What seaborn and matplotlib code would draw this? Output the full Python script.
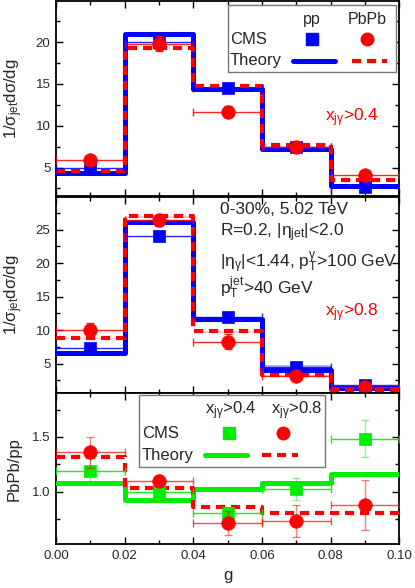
import numpy as np
import matplotlib
matplotlib.use("Agg")
import matplotlib.pyplot as plt
import seaborn as sns
from matplotlib.patches import Rectangle
from matplotlib.ticker import MultipleLocator, FormatStrFormatter

# --- Data ---
g_edges = [0.00, 0.02, 0.04, 0.06, 0.08, 0.10]
g_mid = [0.01, 0.03, 0.05, 0.07, 0.09]

# x_jg > 0.4
cms_pp_04 = [4.9, 20.0, 14.5, 7.4, 2.7]
cms_pp_04_err = [0.3, 0.5, 0.4, 0.3, 0.2]
cms_aa_04 = [5.9, 19.8, 11.7, 7.5, 4.1]
cms_aa_04_err = [0.4, 0.9, 0.7, 0.5, 0.3]
th_pp_04 = [4.3, 21.0, 14.4, 7.2, 2.85]
th_aa_04 = [4.6, 19.35, 14.7, 7.7, 3.5]

# x_jg > 0.8
cms_pp_08 = [7.35, 24.1, 11.9, 4.55, 1.75]
cms_pp_08_err = [0.4, 0.6, 0.5, 0.3, 0.2]
cms_aa_08 = [10.0, 26.4, 8.3, 3.2, 1.45]
cms_aa_08_err = [1.0, 0.8, 1.05, 0.4, 0.3]
th_pp_08 = [6.65, 26.2, 11.7, 4.05, 1.4]
th_pp_08_hi = [6.9, 26.4, 12.0, 4.8, 1.7]
th_aa_08 = [8.85, 27.0, 9.9, 3.3, 1.1]
th_aa_08_lo = [8.6, 26.8, 9.6, 3.0, 0.9]

# ratio PbPb/pp
ratio_04 = [1.19, 1.00, 0.80, 1.02, 1.485]
ratio_04_err = [0.12, 0.05, 0.06, 0.10, 0.17]
ratio_08 = [1.36, 1.10, 0.71, 0.73, 0.88]
ratio_08_err = [0.14, 0.05, 0.11, 0.15, 0.23]
th_ratio_04 = [1.08, 0.92, 1.02, 1.075, 1.165]
th_ratio_08 = [1.32, 1.03, 0.855, 0.80, 0.80]

BLUE = '#0000FF'
RED = '#FF0000'
GREEN = '#00EE00'

sns.set_theme(style='ticks')
plt.rcParams['font.family'] = ['Liberation Sans', 'DejaVu Sans']
plt.rcParams['mathtext.fontset'] = 'custom'
plt.rcParams['mathtext.rm'] = 'Liberation Sans'
plt.rcParams['mathtext.it'] = 'Liberation Sans'
plt.rcParams['mathtext.bf'] = 'Liberation Sans:bold'

fig = plt.figure(figsize=(4.15, 5.88), dpi=100)
L, R = 0.135, 0.962
ax1 = fig.add_axes([L, 0.6667, R - L, 0.3313])
ax2 = fig.add_axes([L, 0.3316, R - L, 0.3334])
ax3 = fig.add_axes([L, 0.0748, R - L, 0.2563])


def steps(ax, vals, color, dashed=False, lw=3.2, z=3):
    y = list(vals) + [vals[-1]]
    sns.lineplot(x=g_edges, y=y, ax=ax, drawstyle='steps-post', color=color,
                 linewidth=lw, linestyle=(0, (2.2, 1.4)) if dashed else '-',
                 estimator=None, sort=False, zorder=z)


def data(ax, y, yerr, color, marker, ms, z, alpha_x=0.85, alpha_y=0.85):
    ax.errorbar(g_mid, y, xerr=0.01, fmt='none', ecolor=color, elinewidth=1.0,
                capsize=3, capthick=1.0, alpha=alpha_x, zorder=z)
    ax.errorbar(g_mid, y, yerr=yerr, fmt='none', ecolor=color, elinewidth=1.0,
                capsize=3, capthick=1.0, alpha=alpha_y, zorder=z)
    sns.scatterplot(x=g_mid, y=y, ax=ax, color=color, marker=marker, s=ms,
                    edgecolor=color, linewidth=0.5, alpha=1.0, zorder=z + 0.5)


# --- panel 1: x > 0.4 ---
steps(ax1, th_pp_04, BLUE, lw=3.6, z=3)
steps(ax1, th_aa_04, RED, dashed=True, lw=3.0, z=4)
data(ax1, cms_pp_04, cms_pp_04_err, BLUE, 's', 75, 5)
data(ax1, cms_aa_04, cms_aa_04_err, RED, 'o', 95, 6)
ax1.set_ylim(1.6, 24.9)
ax1.yaxis.set_major_locator(MultipleLocator(5))
ax1.yaxis.set_minor_locator(MultipleLocator(2.5))

# --- panel 2: x > 0.8 ---
ax2.fill_between(g_edges, th_pp_08 + [th_pp_08[-1]], th_pp_08_hi + [th_pp_08_hi[-1]],
                 step='post', color=BLUE, alpha=0.3, linewidth=0, zorder=2)
ax2.fill_between(g_edges, th_aa_08_lo + [th_aa_08_lo[-1]], th_aa_08 + [th_aa_08[-1]],
                 step='post', color=RED, alpha=0.2, linewidth=0, zorder=2)
steps(ax2, th_pp_08, BLUE, lw=3.6, z=3)
steps(ax2, th_aa_08, RED, dashed=True, lw=3.0, z=4)
data(ax2, cms_pp_08, cms_pp_08_err, BLUE, 's', 75, 5)
data(ax2, cms_aa_08, cms_aa_08_err, RED, 'o', 95, 6)
ax2.set_ylim(0.6, 29.9)
ax2.yaxis.set_major_locator(MultipleLocator(5))
ax2.yaxis.set_minor_locator(MultipleLocator(2.5))

# --- panel 3: ratio ---
steps(ax3, th_ratio_04, GREEN, lw=3.6, z=3)
steps(ax3, th_ratio_08, RED, dashed=True, lw=3.0, z=4)
data(ax3, ratio_04, ratio_04_err, GREEN, 's', 75, 5, alpha_x=0.9, alpha_y=0.45)
data(ax3, ratio_08, ratio_08_err, RED, 'o', 95, 6, alpha_x=0.7, alpha_y=0.5)
ax3.set_ylim(0.52, 1.9)
ax3.yaxis.set_major_locator(MultipleLocator(0.5))
ax3.yaxis.set_minor_locator(MultipleLocator(0.25))
ax3.set_xlabel('g', fontsize=12)
ax3.xaxis.set_label_coords(0.5, -0.16)

for ax in (ax1, ax2, ax3):
    ax.set_xlim(0, 0.10)
    ax.xaxis.set_major_locator(MultipleLocator(0.02))
    ax.xaxis.set_minor_locator(MultipleLocator(0.01))
    ax.tick_params(which='both', direction='in', top=True, right=True,
                   labelsize=9.5, width=1.0, color='black', pad=4)
    ax.tick_params(which='major', length=5)
    ax.tick_params(which='minor', length=3)
    for s in ax.spines.values():
        s.set_linewidth(1.3)
        s.set_color('black')
    ax.set_facecolor('white')
    ax.grid(False)
ax3.xaxis.set_major_formatter(FormatStrFormatter('%.2f'))
ax3.yaxis.set_major_formatter(FormatStrFormatter('%.1f'))
for ax in (ax1, ax2):
    ax.tick_params(labelbottom=False)
    ax.set_xlabel('')

ax1.set_ylabel(r'1/$\sigma_{\rm jet}$d$\sigma$/dg', fontsize=12)
ax2.set_ylabel(r'1/$\sigma_{\rm jet}$d$\sigma$/dg', fontsize=12)
ax3.set_ylabel('PbPb/pp', fontsize=12)
ax1.yaxis.set_label_coords(-0.09, 0.5)
ax2.yaxis.set_label_coords(-0.09, 0.5)
ax3.yaxis.set_label_coords(-0.10, 0.5)

# --- hand-made legends ---
tr = ax1.transAxes
ax1.add_patch(Rectangle((0.501, 0.638), 0.489, 0.342, transform=tr, fill=True,
                        facecolor='white', edgecolor='#777777', lw=1.0, zorder=8))
ax1.text(0.745, 0.905, 'pp', transform=tr, ha='center', va='center', fontsize=11.5, zorder=9)
ax1.text(0.907, 0.905, 'PbPb', transform=tr, ha='center', va='center', fontsize=11.5, zorder=9)
ax1.text(0.507, 0.803, 'CMS', transform=tr, ha='left', va='center', fontsize=12, zorder=9)
ax1.text(0.507, 0.694, 'Theory', transform=tr, ha='left', va='center', fontsize=12, zorder=9)
ax1.plot([0.745], [0.806], 's', color=BLUE, ms=8, transform=tr, zorder=9)
ax1.plot([0.905], [0.806], 'o', color=RED, ms=9, transform=tr, zorder=9)
ax1.plot([0.690, 0.813], [0.694, 0.694], '-', color=BLUE, lw=3.6, transform=tr, zorder=9)
ax1.plot([0.861, 0.963], [0.694, 0.694], color=RED, lw=3.0,
         linestyle=(0, (2.2, 1.4)), transform=tr, zorder=9)
ax1.text(0.784, 0.403, r'x$_{\rm j\gamma}$>0.4', transform=tr, color=RED,
         ha='left', va='center', fontsize=12.5)

tr2 = ax2.transAxes
info = ['0-30%, 5.02 TeV',
        r'R=0.2, |$\eta_{\rm jet}$|<2.0',
        r'|$\eta_{\gamma}$|<1.44, p$_{\rm T}^{\gamma}$>100 GeV',
        r'p$_{\rm T}^{\rm jet}$>40 GeV']
for txt, yy in zip(info, [0.935, 0.818, 0.665, 0.537]):
    ax2.text(0.478, yy, txt, transform=tr2, ha='left', va='center', fontsize=12.5, zorder=9)
ax2.text(0.784, 0.408, r'x$_{\rm j\gamma}$>0.8', transform=tr2, color=RED,
         ha='left', va='center', fontsize=12.5)

tr3 = ax3.transAxes
ax3.add_patch(Rectangle((0.242, 0.511), 0.542, 0.478, transform=tr3, fill=True,
                        facecolor='white', edgecolor='#777777', lw=1.0, zorder=8))
ax3.text(0.510, 0.885, r'x$_{\rm j\gamma}$>0.4', transform=tr3, ha='center', va='center',
         fontsize=12, zorder=9)
ax3.text(0.701, 0.885, r'x$_{\rm j\gamma}$>0.8', transform=tr3, ha='center', va='center',
         fontsize=12, zorder=9)
ax3.text(0.250, 0.735, 'CMS', transform=tr3, ha='left', va='center', fontsize=12, zorder=9)
ax3.text(0.250, 0.590, 'Theory', transform=tr3, ha='left', va='center', fontsize=12, zorder=9)
ax3.plot([0.504], [0.737], 's', color=GREEN, ms=8, transform=tr3, zorder=9)
ax3.plot([0.661], [0.737], 'o', color=RED, ms=9, transform=tr3, zorder=9)
ax3.plot([0.434, 0.556], [0.590, 0.590], '-', color=GREEN, lw=3.6, transform=tr3, zorder=9)
ax3.plot([0.600, 0.705], [0.590, 0.590], color=RED, lw=3.0,
         linestyle=(0, (2.2, 1.4)), transform=tr3, zorder=9)

fig.savefig('out.png', dpi=100, facecolor='white')
